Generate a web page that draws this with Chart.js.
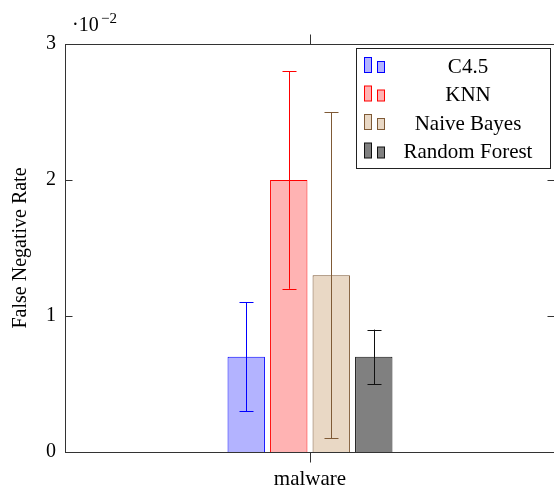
<!DOCTYPE html>
<html>
<head>
<meta charset="utf-8">
<script src="https://cdn.jsdelivr.net/npm/chart.js@4/dist/chart.umd.min.js"></script>
<style>
  html, body { margin: 0; padding: 0; background: #fff; overflow: hidden; }
  #wrap { width: 560px; height: 487px; position: relative; }
</style>
</head>
<body>
<div id="wrap"><canvas id="fnrChart"></canvas></div>
<script>
// False negative rate per classifier (values in units of 1e-2)
const categories = ['malware'];
const seriesNames = ['C4.5', 'KNN', 'Naive Bayes', 'Random Forest'];
const meanValues = [0.7, 2.0, 1.3, 0.7];
const errLow = [0.3, 1.2, 0.1, 0.5];
const errHigh = [1.1, 2.8, 2.5, 0.9];
const yTicks = [0, 1, 2, 3];

const fills = ['#b3b3ff', '#ffb3b3', '#e9d8c5', '#808080'];
const strokes = ['#0000ff', '#ff0000', '#7f5a36', '#111111'];
const FONT = 'Liberation Serif';

// frame, ticks, error bars, legend and the exponent label
const decor = {
    id: 'decor',
    afterDatasetsDraw(chart) {
        const ctx = chart.ctx;
        const a = chart.chartArea;
        const y = chart.scales.y;
        const x = chart.scales.x;
        ctx.save();

        // error bars
        chart.data.datasets.forEach((ds, i) => {
            const bar = chart.getDatasetMeta(i).data[0];
            const top = y.getPixelForValue(errHigh[i]);
            const bot = y.getPixelForValue(errLow[i]);
            const cx = Math.round(bar.x) + 0.5;
            ctx.strokeStyle = strokes[i];
            ctx.lineWidth = 1;
            ctx.beginPath();
            ctx.moveTo(cx, top); ctx.lineTo(cx, bot);
            ctx.moveTo(cx - 7, Math.round(top) + 0.5); ctx.lineTo(cx + 7, Math.round(top) + 0.5);
            ctx.moveTo(cx - 7, Math.round(bot) + 0.5); ctx.lineTo(cx + 7, Math.round(bot) + 0.5);
            ctx.stroke();
        });

        // axis frame
        ctx.strokeStyle = '#333';
        ctx.lineWidth = 1;
        const L = Math.round(a.left) + 0.5, R = Math.round(a.right) - 0.5;
        const T = Math.round(a.top) + 0.5, B = Math.round(a.bottom) + 0.5;
        ctx.strokeRect(L, T, R - L, B - T);

        // tick marks
        ctx.beginPath();
        yTicks.forEach(v => {
            const py = Math.round(y.getPixelForValue(v)) + 0.5;
            ctx.moveTo(L, py); ctx.lineTo(L + 7, py);
            ctx.moveTo(R, py); ctx.lineTo(R - 7, py);
        });
        categories.forEach((c, i) => {
            const px = Math.round(x.getPixelForValue(i)) + 0.5;
            ctx.moveTo(px, T); ctx.lineTo(px, T - 10);
            ctx.moveTo(px, B); ctx.lineTo(px, B + 10);
        });
        ctx.stroke();

        // exponent label
        ctx.fillStyle = '#000';
        ctx.textBaseline = 'alphabetic';
        ctx.textAlign = 'left';
        ctx.font = '20px "' + FONT + '"';
        ctx.fillText('\u00b710', 72, 31);
        ctx.font = '15px "' + FONT + '"';
        ctx.fillText('\u22122', 101, 23);

        // y axis title
        ctx.save();
        ctx.translate(21, (a.top + a.bottom) / 2);
        ctx.rotate(-Math.PI / 2);
        ctx.textAlign = 'center';
        ctx.textBaseline = 'middle';
        ctx.font = '20px "' + FONT + '"';
        ctx.fillText('False Negative Rate', 0, 0);
        ctx.restore();

        // legend
        const lx = 356.5, ly = 48.5, lw = 194, lh = 120;
        ctx.fillStyle = '#fff';
        ctx.fillRect(lx, ly, lw, lh);
        ctx.strokeStyle = '#222';
        ctx.strokeRect(lx, ly, lw, lh);
        seriesNames.forEach((name, i) => {
            const cy = 66 + i * 28.5;
            ctx.fillStyle = fills[i];
            ctx.strokeStyle = strokes[i];
            ctx.fillRect(364.5, cy - 8.5, 7, 15);
            ctx.strokeRect(364.5, cy - 8.5, 7, 15);
            ctx.fillRect(377.5, cy - 4.5, 7, 11);
            ctx.strokeRect(377.5, cy - 4.5, 7, 11);
            ctx.fillStyle = '#000';
            ctx.textAlign = 'center';
            ctx.textBaseline = 'middle';
            ctx.font = '21px "' + FONT + '"';
            ctx.fillText(name, 468, cy + 1);
        });
        ctx.restore();
    }
};

document.addEventListener('DOMContentLoaded', function() {
    const ctx = document.getElementById('fnrChart').getContext('2d');
    new Chart(ctx, {
        type: 'bar',
        data: {
            labels: categories,
            datasets: seriesNames.map((name, i) => ({
                label: name,
                data: [meanValues[i]],
                backgroundColor: fills[i],
                borderColor: strokes[i],
                borderWidth: 1
            }))
        },
        options: {
            responsive: true,
            maintainAspectRatio: false,
            animation: false,
            categoryPercentage: 0.347,
            barPercentage: 0.88,
            layout: { padding: { top: 44, right: 5, left: 0, bottom: 0 } },
            plugins: { legend: { display: false }, tooltip: { enabled: false } },
            scales: {
                x: {
                    grid: { display: false, drawTicks: false },
                    border: { display: false },
                    ticks: { color: '#000', font: { family: FONT, size: 21 }, padding: 15 },
                    afterFit: s => { s.height = 35; }
                },
                y: {
                    min: 0,
                    max: 3,
                    grid: { display: false, drawTicks: false },
                    border: { display: false },
                    ticks: { stepSize: 1, color: '#000', padding: 9, font: { family: FONT, size: 20 } },
                    afterFit: s => { s.width = 65; }
                }
            }
        },
        plugins: [decor]
    });
});
</script>
</body>
</html>
